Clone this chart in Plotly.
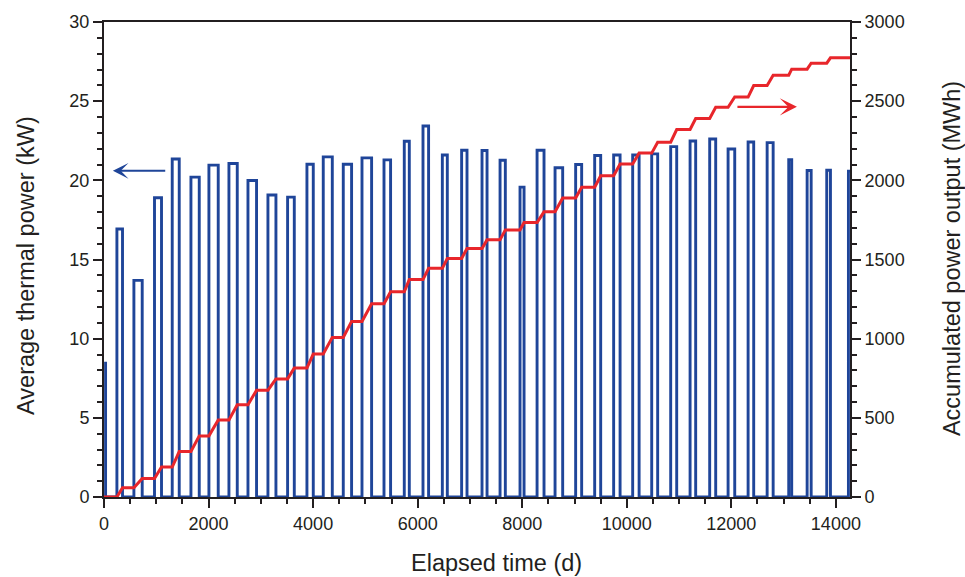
import plotly.graph_objects as go

# Heating periods: start/end day of each operating season and its mean thermal power
season_start_d = [247, 572, 966, 1305, 1663, 2007, 2390, 2754, 3136, 3512,
                  3882, 4194, 4577, 4935, 5356, 5744, 6102, 6472, 6841, 7231,
                  7576, 7958, 8284, 8628, 9022, 9386, 9749, 10113, 10477, 10840,
                  11211, 11586, 11938, 12321, 12685, 13098, 13450, 13825, 14240]
season_end_d = [354, 731, 1100, 1439, 1822, 2185, 2549, 2918, 3289, 3640,
                4003, 4367, 4736, 5119, 5482, 5840, 6209, 6567, 6944, 7327,
                7677, 8035, 8417, 8774, 9137, 9501, 9872, 10236, 10591, 10955,
                11318, 11701, 12065, 12428, 12800, 13155, 13527, 13896, 14400]
avg_power_kw = [16.93, 13.68, 18.90, 21.35, 20.20, 20.96, 21.06, 19.99, 19.07, 18.94,
                21.02, 21.48, 21.02, 21.42, 21.29, 22.47, 23.43, 21.60, 21.90, 21.88,
                21.27, 19.57, 21.90, 20.79, 21.00, 21.57, 21.60, 21.60, 21.67, 22.13,
                22.48, 22.61, 21.98, 22.42, 22.38, 21.31, 20.62, 20.64, 20.58]

# Accumulated output at the end of each season (MWh)
accum_mwh = [58, 117, 189, 287, 386, 486, 582, 675, 746, 815,
             903, 1008, 1109, 1220, 1296, 1373, 1444, 1507, 1570, 1624,
             1687, 1733, 1801, 1889, 1956, 2029, 2103, 2172, 2241, 2321,
             2390, 2461, 2526, 2599, 2664, 2702, 2740, 2774]

# Tail of the season running at the start of the record
initial_day = 30
initial_kw = 8.55

x_range = [0, 14270]
ink = "#231f20"
blue = "#1f4599"
red = "#e8262b"
font_family = "Liberation Sans, Arial, sans-serif"

# Outline of the power record: rises at each season start, drops at its end
px_, py_ = [initial_day, initial_day], [initial_kw, 0]
for s, e, p in zip(season_start_d, season_end_d, avg_power_kw):
    px_ += [s, s, e, e]
    py_ += [0, p, p, 0]

# Accumulated output ramps up during each season and stays flat in between
ax_, ay_ = [0], [0]
prev = 0
for s, e, c in zip(season_start_d, season_end_d, accum_mwh):
    ax_ += [s, e]
    ay_ += [prev, c]
    prev = c
ax_.append(x_range[1])
ay_.append(prev)

fig = go.Figure()
fig.add_trace(go.Scatter(x=px_, y=py_, mode="lines",
                         line=dict(color=blue, width=2.9), yaxis="y",
                         showlegend=False, hoverinfo="skip"))
fig.add_trace(go.Scatter(x=ax_, y=ay_, mode="lines",
                         line=dict(color=red, width=3), yaxis="y2",
                         showlegend=False, hoverinfo="skip"))

tickfont = dict(family=font_family, size=18, color=ink)
axis_common = dict(showgrid=False, zeroline=False, showline=True,
                   linecolor=ink, linewidth=2, ticks="outside",
                   tickcolor=ink, tickwidth=2, ticklen=9, tickfont=tickfont)

fig.update_layout(
    width=965, height=577,
    margin=dict(l=104, r=115, t=20, b=80),
    paper_bgcolor="white", plot_bgcolor="white",
    xaxis=dict(range=x_range, dtick=2000, tick0=0, mirror=True,
               tickformat="d",
               minor=dict(dtick=500, ticks="outside", ticklen=5,
                          tickwidth=2, tickcolor=ink),
               **axis_common),
    yaxis=dict(range=[0, 30], dtick=5, tick0=0, tickformat="d",
               minor=dict(dtick=1, ticks="outside", ticklen=5,
                          tickwidth=2, tickcolor=ink),
               **axis_common),
    yaxis2=dict(range=[0, 3000], dtick=500, tick0=0, overlaying="y",
                side="right", tickformat="d",
                minor=dict(dtick=100, ticks="outside", ticklen=5,
                           tickwidth=2, tickcolor=ink),
                **axis_common),
)

title_font = dict(family=font_family, size=23.5, color=ink)
fig.add_annotation(text="Elapsed time (d)", xref="paper", yref="paper",
                   x=0.5255, y=-0.138, xanchor="center", yanchor="middle",
                   showarrow=False, font=title_font)
fig.add_annotation(text="Average thermal power (kW)", xref="paper", yref="paper",
                   x=-0.1046, y=0.4885, xanchor="center", yanchor="middle",
                   textangle=-90, showarrow=False, font=title_font)
fig.add_annotation(text="Accumulated power output (MWh)", xref="paper", yref="paper",
                   x=1.1367, y=0.503, xanchor="center", yanchor="middle",
                   textangle=-90, showarrow=False, font=title_font)

# Arrows pointing each curve to its axis
fig.add_annotation(x=170, y=20.6, xref="x", yref="y",
                   ax=1200, ay=20.6, axref="x", ayref="y",
                   text="", showarrow=True, arrowhead=3, arrowsize=1.3,
                   arrowwidth=2, arrowcolor=blue)
fig.add_annotation(x=13255, y=2464, xref="x", yref="y2",
                   ax=12088, ay=2464, axref="x", ayref="y2",
                   text="", showarrow=True, arrowhead=3, arrowsize=1.3,
                   arrowwidth=2.2, arrowcolor=red)

fig.write_html("out.html")
